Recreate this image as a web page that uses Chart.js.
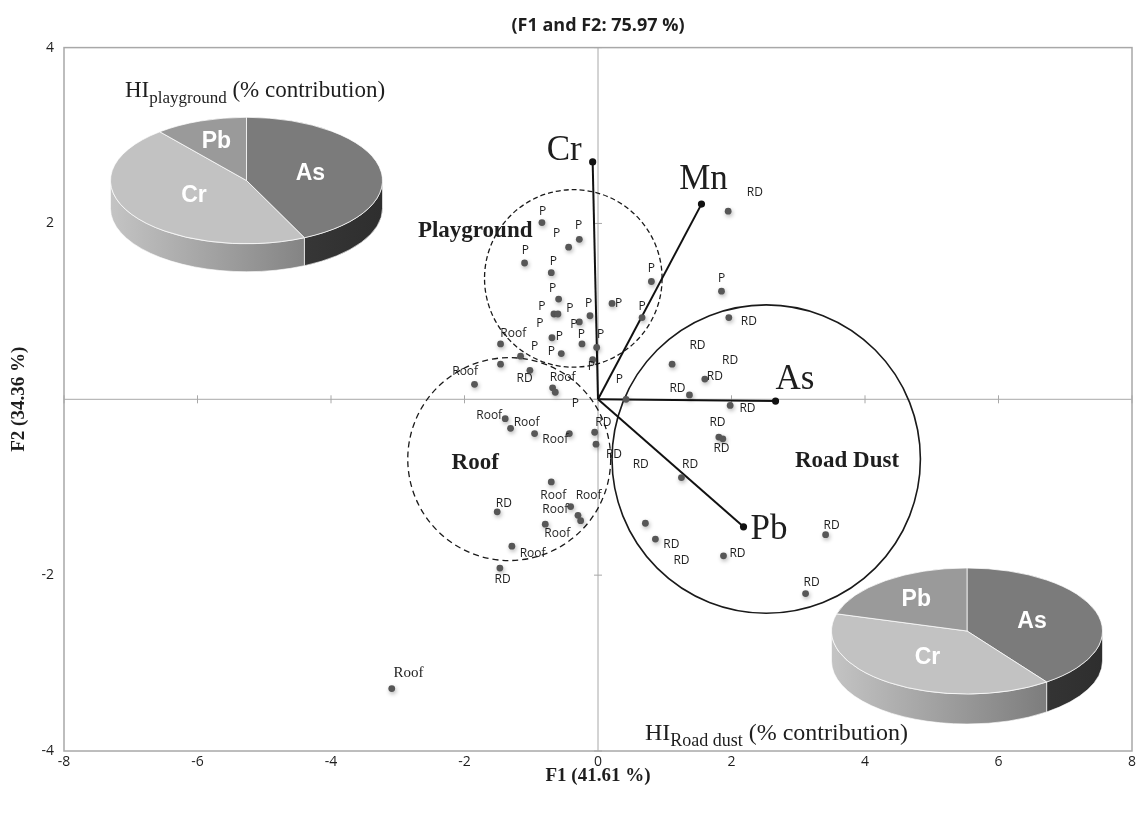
<!DOCTYPE html>
<html>
<head>
<meta charset="utf-8">
<title>PCA biplot F1 vs F2</title>
<script src="https://cdn.jsdelivr.net/npm/chart.js@4/dist/chart.umd.min.js"></script>
<style>
  html, body { margin: 0; padding: 0; background: #fff; overflow: hidden; }
  #wrap { position: relative; width: 1136px; height: 813px; }
  #mainBox { position: absolute; left: 0; top: 0; width: 1136px; height: 813px; }
  .pieBox { position: absolute; pointer-events: none; }
</style>
</head>
<body>
<div id="wrap">
  <div id="mainBox"><canvas id="main"></canvas></div>
  <div class="pieBox" id="pieBoxA" style="left:110px;top:44px;width:273px;height:273px"><canvas id="piePlay"></canvas></div>
  <div class="pieBox" id="pieBoxB" style="left:831px;top:495px;width:272px;height:272px"><canvas id="pieRoad"></canvas></div>
</div>
<script>
// ---- sample scores (F1, F2) ----
const sampleF1 = [
  -0.84, -0.28, -0.44, -1.10, -0.70, -0.59, 0.21, 0.80, -0.66, -0.60, -0.12, 0.66, -0.28, -0.69, -0.24, -0.02, -0.55, -1.16, -0.08, 1.85, 0.42,
  -1.46, -1.46, -1.85, -0.68, -0.64, -1.02, -1.39, -1.31, -0.95, -0.43, -0.05, -0.03, -0.70, -0.41, -0.30, -0.26, -0.79, -1.29, -1.47, -1.51, -3.09,
  1.95, 1.96, 1.11, 1.60, 1.37, 1.98, 1.81, 1.87, 1.25, 0.71, 0.86, 1.88, 3.41, 3.11
];
const sampleF2 = [
  2.01, 1.82, 1.73, 1.55, 1.44, 1.14, 1.09, 1.34, 0.97, 0.97, 0.95, 0.93, 0.88, 0.70, 0.63, 0.59, 0.52, 0.49, 0.45, 1.23, 0.00,
  0.63, 0.40, 0.17, 0.13, 0.08, 0.33, -0.22, -0.33, -0.39, -0.39, -0.375, -0.51, -0.94, -1.22, -1.32, -1.38, -1.42, -1.67, -1.92, -1.28, -3.29,
  2.14, 0.93, 0.40, 0.23, 0.05, -0.07, -0.43, -0.45, -0.89, -1.41, -1.59, -1.78, -1.54, -2.21
];

// ---- sample tags (text placed at F1/F2 coordinates) ----
const labelText = [
  'P','P','P','P','P','P','P','P','P','P','P','P','P','P','P','P','P','P','P','P','P','P','P',
  'Roof','Roof','Roof','RD','Roof','Roof','Roof','RD','RD','Roof','Roof','Roof','Roof','Roof','RD','RD',
  'RD','RD','RD','RD','RD','RD','RD','RD','RD','RD','RD','RD','RD','RD','RD','RD'
];
const labelF1 = [
  -0.83, -0.29, -0.62, -1.09, -0.67, -0.68, 0.31, 0.80, -0.84, -0.42, -0.14, 0.66, -0.36, -0.87, -0.58, -0.25, 0.04, -0.70, -0.95, -0.10, 1.85, 0.32, -0.34,
  -1.27, -1.99, -0.53, -1.10, -1.63, -1.07, -0.64, 0.08, 0.24, -0.67, -0.14, -0.64, -0.61, -0.98, -1.43, -1.41,
  2.35, 2.26, 1.49, 1.75, 1.98, 1.19, 2.24, 1.79, 1.85, 1.38, 0.64, 1.10, 1.25, 2.09, 3.50, 3.20
];
const labelF2 = [
  2.14, 1.98, 1.89, 1.69, 1.57, 1.26, 1.09, 1.49, 1.06, 1.03, 1.09, 1.05, 0.85, 0.86, 0.71, 0.74, 0.74, 0.54, 0.60, 0.375, 1.375, 0.22, -0.045,
  0.75, 0.32, 0.25, 0.24, -0.18, -0.26, -0.455, -0.27, -0.625, -1.10, -1.10, -1.25, -1.53, -1.76, -2.05, -1.19,
  2.35, 0.88, 0.61, 0.26, 0.44, 0.125, -0.11, -0.27, -0.56, -0.74, -0.74, -1.65, -1.83, -1.76, -1.44, -2.09
];
const outlierTag = { text: 'Roof', f1: -2.84, f2: -3.11 };

// ---- variable loadings ----
const loadingNames = ['Cr', 'Mn', 'As', 'Pb'];
const loadingF1 = [-0.08, 1.55, 2.66, 2.18];
const loadingF2 = [2.70, 2.22, -0.02, -1.45];

// ---- sample groups ----
const groupNames = ['Playground', 'Roof', 'Road Dust'];
const groupCentreF1 = [-0.37, -1.33, 2.52];
const groupCentreF2 = [1.375, -0.68, -0.68];
const groupRadiusF1 = [1.33, 1.52, 2.31];
const groupNameF1 = [-1.84, -1.84, 3.73];
const groupNameF2 = [1.91, -0.73, -0.70];

// ---- axes ----
const xTickStep = 2, yTickStep = 2;
const xRange = [-8, 8], yRange = [-4, 4];

// ---- hazard index contributions (%) ----
const pieElements = ['As', 'Cr', 'Pb'];
const hiPlayground = [43, 46, 11];
const hiRoadDust = [40, 39.4, 20.6];

// ---------- drawing helpers ----------
const SERIF = '"Liberation Serif", "Times New Roman", serif';
const SANS = '"Open Sans", "Liberation Sans", sans-serif';

const loadingLabelStyle = {
  Cr: { dx: -11, dy: -2, align: 'right' },
  Mn: { dx: 2, dy: -15, align: 'center' },
  As: { dx: 0, dy: -12, align: 'left' },
  Pb: { dx: 7, dy: 12, align: 'left' }
};
const groupLineDash = [[5, 3], [6, 4], []];
const groupLineWidth = [1.3, 1.3, 1.6];

const framePlugin = {
  id: 'frame',
  beforeDatasetsDraw(chart) {
    const { ctx, chartArea: a, scales: { x, y } } = chart;
    const x0 = x.getPixelForValue(0), y0 = y.getPixelForValue(0);
    ctx.save();
    ctx.strokeStyle = '#a8a8a8';
    ctx.lineWidth = 1.5;
    ctx.strokeRect(a.left, a.top, a.right - a.left, a.bottom - a.top);
    ctx.lineWidth = 1;
    ctx.beginPath();
    ctx.moveTo(a.left, y0); ctx.lineTo(a.right, y0);
    ctx.moveTo(x0, a.top); ctx.lineTo(x0, a.bottom);
    x.ticks.forEach(t => {
      const px = x.getPixelForValue(t.value);
      ctx.moveTo(px, y0 - 4); ctx.lineTo(px, y0 + 4);
    });
    y.ticks.forEach(t => {
      const py = y.getPixelForValue(t.value);
      ctx.moveTo(x0 - 4, py); ctx.lineTo(x0 + 4, py);
    });
    ctx.stroke();

    // group outlines
    ctx.strokeStyle = '#1a1a1a';
    groupNames.forEach((g, i) => {
      const cx = x.getPixelForValue(groupCentreF1[i]);
      const cy = y.getPixelForValue(groupCentreF2[i]);
      const r = x.getPixelForValue(groupCentreF1[i] + groupRadiusF1[i]) - cx;
      ctx.setLineDash(groupLineDash[i]);
      ctx.lineWidth = groupLineWidth[i];
      ctx.beginPath();
      ctx.arc(cx, cy, r, 0, Math.PI * 2);
      ctx.stroke();
    });
    ctx.restore();
  },
  beforeDatasetDraw(chart, args) {
    if (args.index === 0) {
      const ctx = chart.ctx;
      ctx.save();
      ctx.shadowColor = 'rgba(0,0,0,0.3)';
      ctx.shadowBlur = 4;
      ctx.shadowOffsetX = 1;
      ctx.shadowOffsetY = 2;
    }
  },
  afterDatasetDraw(chart, args) {
    if (args.index === 0) chart.ctx.restore();
  },
  afterDatasetsDraw(chart) {
    const { ctx, scales: { x, y } } = chart;
    ctx.save();
    ctx.fillStyle = '#1e1e1e';
    ctx.textBaseline = 'middle';
    ctx.textAlign = 'center';
    ctx.font = '12px ' + SANS;
    labelText.forEach((t, i) => {
      ctx.fillText(t, x.getPixelForValue(labelF1[i]), y.getPixelForValue(labelF2[i]));
    });
    ctx.font = '15px ' + SERIF;
    ctx.fillText(outlierTag.text, x.getPixelForValue(outlierTag.f1), y.getPixelForValue(outlierTag.f2));

    // group names
    ctx.font = 'bold 23px ' + SERIF;
    groupNames.forEach((g, i) => {
      ctx.fillText(g, x.getPixelForValue(groupNameF1[i]), y.getPixelForValue(groupNameF2[i]));
    });

    // loading names
    ctx.font = '35px ' + SERIF;
    ctx.textBaseline = 'alphabetic';
    loadingNames.forEach((n, i) => {
      const s = loadingLabelStyle[n];
      ctx.textAlign = s.align;
      ctx.fillText(n, x.getPixelForValue(loadingF1[i]) + s.dx, y.getPixelForValue(loadingF2[i]) + s.dy);
    });

    // pie captions: HI with subscript
    const caption = (sub, size, left, baseline, right) => {
      const subSize = Math.round(size * 0.74);
      ctx.textAlign = 'left';
      ctx.font = size + 'px ' + SERIF;
      const w1 = ctx.measureText('HI').width;
      const w3 = ctx.measureText(' (% contribution)').width;
      ctx.font = subSize + 'px ' + SERIF;
      const w2 = ctx.measureText(sub).width;
      const sx = right !== undefined ? right - (w1 + w2 + w3) : left;
      ctx.font = size + 'px ' + SERIF;
      ctx.fillText('HI', sx, baseline);
      ctx.font = subSize + 'px ' + SERIF;
      ctx.fillText(sub, sx + w1, baseline + Math.round(size * 0.26));
      ctx.font = size + 'px ' + SERIF;
      ctx.fillText(' (% contribution)', sx + w1 + w2, baseline);
    };
    caption('playground', 23, 125, 97);
    caption('Road dust', 24, undefined, 740, 908);
    ctx.restore();
  }
};

const loadingDatasets = loadingNames.map((n, i) => ({
  label: n,
  data: [{ x: 0, y: 0 }, { x: loadingF1[i], y: loadingF2[i] }],
  showLine: true,
  borderColor: '#111',
  borderWidth: 2,
  pointRadius: [0, 3.6],
  pointBackgroundColor: '#111',
  pointBorderWidth: 0
}));

new Chart(document.getElementById('main'), {
  type: 'scatter',
  data: {
    datasets: [
      {
        label: 'Samples',
        data: sampleF1.map((v, i) => ({ x: v, y: sampleF2[i] })),
        pointRadius: 3.4,
        pointBackgroundColor: '#575757',
        pointBorderWidth: 0
      },
      ...loadingDatasets
    ]
  },
  options: {
    responsive: true,
    maintainAspectRatio: false,
    animation: false,
    events: [],
    layout: { padding: { right: 3 } },
    plugins: {
      legend: { display: false },
      tooltip: { enabled: false },
      title: {
        display: true,
        fullSize: false,
        text: '(F1 and F2: 75.97 %)',
        color: '#1e1e1e',
        font: { family: SANS, weight: 'bold', size: 18 },
        padding: { top: 15, bottom: 11 }
      }
    },
    scales: {
      x: {
        type: 'linear',
        min: xRange[0], max: xRange[1],
        ticks: { stepSize: xTickStep, padding: 3, color: '#1e1e1e', font: { family: SANS, size: 14 } },
        grid: { display: false, drawTicks: false },
        border: { display: false },
        title: {
          display: true, text: 'F1 (41.61 %)', color: '#1e1e1e',
          font: { family: SERIF, weight: 'bold', size: 19 },
          padding: { bottom: 26 }
        },
        afterFit(s) { s.height = 62; s.paddingLeft = 0; s.paddingRight = 0; }
      },
      y: {
        type: 'linear',
        min: yRange[0], max: yRange[1],
        ticks: {
          stepSize: yTickStep, padding: 10, color: '#1e1e1e', font: { family: SANS, size: 14 },
          callback: v => (v === 0 ? '' : v)
        },
        grid: { display: false, drawTicks: false },
        border: { display: false },
        title: {
          display: true, text: 'F2 (34.36 %)', color: '#1e1e1e',
          font: { family: SERIF, weight: 'bold', size: 19 },
          padding: { top: 8 }
        },
        afterFit(s) { s.width = 64; }
      }
    }
  },
  plugins: [framePlugin]
});

// ---------- tilted 3-D pies ----------
const pie3d = {
  id: 'pie3d',
  beforeDatasetsDraw(chart, args, opts) {
    const meta = chart.getDatasetMeta(0);
    const ctx = chart.ctx;
    const { x, y, outerRadius: r } = meta.data[0].getProps(['x', 'y', 'outerRadius'], true);
    const k = opts.tilt;
    const d = opts.depth / k;
    ctx.save();
    ctx.translate(x, y); ctx.scale(1, k); ctx.translate(-x, -y);
    meta.data.forEach((arc, i) => {
      const { startAngle, endAngle } = arc.getProps(['startAngle', 'endAngle'], true);
      const a0 = Math.max(startAngle, 0), a1 = Math.min(endAngle, Math.PI);
      if (a1 <= a0) return;
      const g = ctx.createLinearGradient(x - r, 0, x + r, 0);
      g.addColorStop(0, opts.sideColors[i][0]);
      g.addColorStop(1, opts.sideColors[i][1]);
      ctx.beginPath();
      ctx.arc(x, y, r, a0, a1);
      ctx.arc(x, y + d, r, a1, a0, true);
      ctx.closePath();
      ctx.fillStyle = g;
      ctx.fill();
      ctx.lineWidth = 1;
      ctx.strokeStyle = 'rgba(255,255,255,0.85)';
      ctx.stroke();
    });
  },
  afterDatasetsDraw(chart, args, opts) {
    const ctx = chart.ctx;
    ctx.restore();
    const meta = chart.getDatasetMeta(0);
    ctx.save();
    ctx.fillStyle = '#fff';
    ctx.font = 'bold 23px "Liberation Sans", Arial, sans-serif';
    ctx.textAlign = 'center';
    ctx.textBaseline = 'middle';
    meta.data.forEach((arc, i) => {
      const { x, y, startAngle, endAngle, outerRadius: r } =
        arc.getProps(['x', 'y', 'startAngle', 'endAngle', 'outerRadius'], true);
      const half = (endAngle - startAngle) / 2;
      const mid = startAngle + half;
      const f = (2 * Math.sin(half)) / (3 * half);   // sector centroid
      ctx.fillText(chart.data.labels[i], x + Math.cos(mid) * r * f, y + Math.sin(mid) * r * f * opts.tilt);
    });
    ctx.restore();
  }
};

function makePie(id, values, tilt, depth) {
  new Chart(document.getElementById(id), {
    type: 'pie',
    data: {
      labels: pieElements,
      datasets: [{
        data: values,
        backgroundColor: ['#7b7b7b', '#c2c2c2', '#9a9a9a'],
        borderColor: '#ffffff',
        borderWidth: 1
      }]
    },
    options: {
      responsive: true,
      maintainAspectRatio: false,
      animation: false,
      events: [],
      layout: { padding: 0 },
      plugins: {
        legend: { display: false },
        tooltip: { enabled: false },
        pie3d: {
          tilt, depth,
          sideColors: [['#4a4a4a', '#2e2e2e'], ['#c4c4c4', '#6a6a6a'], ['#8a8a8a', '#6a6a6a']]
        }
      }
    },
    plugins: [pie3d]
  });
}
makePie('piePlay', hiPlayground, 0.465, 28);
makePie('pieRoad', hiRoadDust, 0.465, 30);
</script>
</body>
</html>
